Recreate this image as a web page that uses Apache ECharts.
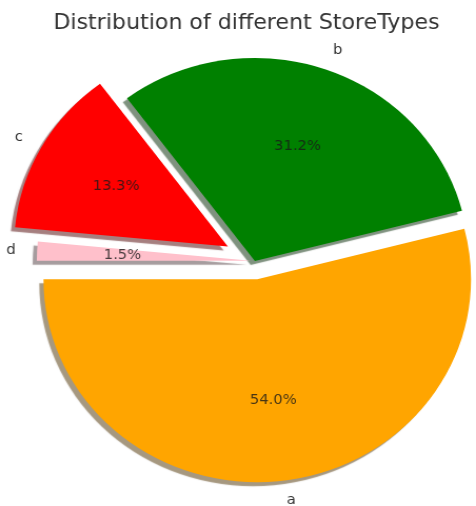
<!DOCTYPE html>
<html><head><meta charset="utf-8">
<script src="https://cdn.jsdelivr.net/npm/echarts@6/dist/echarts.min.js"></script>
<style>
html,body{margin:0;padding:0;background:#fff;overflow:hidden}
#wrap{width:476px;height:506px;overflow:hidden}
#c{width:452px;height:506px;transform:scaleX(1.0531);transform-origin:0 0}
</style>
</head><body><div id="wrap"><div id="c"></div></div>
<script>
// ---- data ----
const categories = ['a', 'b', 'c', 'd'];
const counts = [602, 348, 148, 17];
const colors = ['#FFA500', '#008000', '#FF0000', '#FFC0CB'];
const explode = [0.09, 0, 0.145, 0.02];
const titleText = 'Distribution of different StoreTypes';

// ---- layout / style (chart coords; the canvas is stretched horizontally like the reference) ----
const R = 203, CX = 242, CY = 261, START = 180;
const FONT = 'DejaVu Sans';
const total = counts.reduce((s, v) => s + v, 0);

function shadowOf(hex) {
  const n = parseInt(hex.slice(1), 16);
  const r = (n >> 16) & 255, g = (n >> 8) & 255, b = n & 255;
  return 'rgba(' + Math.round(r * 0.3) + ',' + Math.round(g * 0.3) + ',' + Math.round(b * 0.3) + ',0.5)';
}

const series = [];
let cum = 0;
categories.forEach((name, i) => {
  const mid = (START + 360 * (cum + counts[i] / 2) / total) * Math.PI / 180;
  cum += counts[i];
  const off = explode[i] * R;
  const center = [CX + off * Math.cos(mid), CY - off * Math.sin(mid)];
  const base = {
    type: 'pie', center: center, startAngle: START, clockwise: false,
    avoidLabelOverlap: false, silent: true, animation: false,
    emphasis: { disabled: true }
  };
  // visible wedge + outer name label
  series.push(Object.assign({}, base, {
    radius: [0, R],
    labelLine: { show: false, length: 0.1 * R, length2: 0 },
    label: { show: true, position: 'outside', distanceToLabelLine: 0, color: '#333',
             fontSize: 14, fontFamily: FONT, formatter: '{b}' },
    data: categories.map((n, j) => ({
      name: n, value: counts[j],
      itemStyle: j === i
        ? { color: colors[j], borderWidth: 0, shadowColor: shadowOf(colors[j]), shadowBlur: 1, shadowOffsetX: -4, shadowOffsetY: 4 }
        : { color: 'rgba(0,0,0,0)', borderWidth: 0 },
      label: { show: j === i }
    }))
  }));
  // percentage label layer (inside label sits at 0.6 R)
  series.push(Object.assign({}, base, {
    radius: [0, 2 * (0.6 * R - 3)],
    labelLine: { show: false },
    label: { show: true, position: 'inside', color: 'rgba(25,25,25,0.8)', fontSize: 14, fontFamily: FONT,
             formatter: p => p.percent.toFixed(1) + '%' },
    data: categories.map((n, j) => ({
      name: n, value: counts[j],
      itemStyle: { color: 'rgba(0,0,0,0)', borderWidth: 0 },
      label: { show: j === i }
    }))
  }));
});

const chart = echarts.init(document.getElementById('c'));
chart.setOption({
  animation: false,
  backgroundColor: '#fff',
  title: { text: titleText, left: 229, top: 8, textAlign: 'center',
           textStyle: { fontFamily: FONT, fontSize: 21, fontWeight: 'normal', color: '#333' } },
  series: series
});
</script></body></html>
